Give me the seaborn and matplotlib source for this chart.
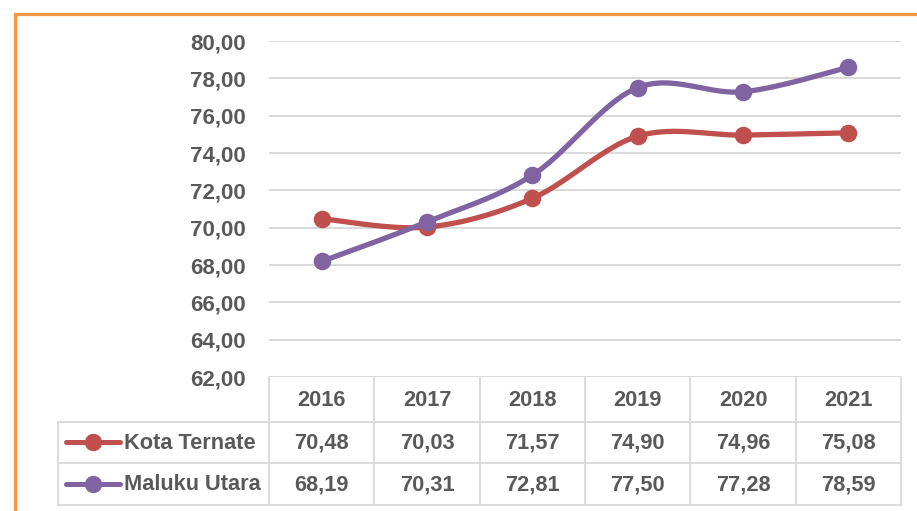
import numpy as np
import matplotlib
matplotlib.use("Agg")
import matplotlib.pyplot as plt
import matplotlib.transforms as mtransforms
import seaborn as sns
import pandas as pd

# ---- data ----
years = ["2016", "2017", "2018", "2019", "2020", "2021"]
kota_ternate = [70.48, 70.03, 71.57, 74.90, 74.96, 75.08]
maluku_utara = [68.19, 70.31, 72.81, 77.50, 77.28, 78.59]
series_names = ["Kota Ternate", "Maluku Utara"]
y_ticks = [62, 64, 66, 68, 70, 72, 74, 76, 78, 80]

colors = ["#C0504D", "#8064A2"]
txt = "#595959"
grid_c = "#D9D9D9"

sns.set_theme(style="white")
plt.rcParams['font.family'] = ['Liberation Sans', 'DejaVu Sans']
plt.rcParams['font.weight'] = 'bold'

W, H = 917, 511
fig = plt.figure(figsize=(W / 100, H / 100), dpi=100)
bg = fig.add_axes([0, 0, 1, 1])
bg.set_xlim(0, W)
bg.set_ylim(H, 0)
bg.axis('off')

ax = fig.add_axes([269 / W, 1 - 377 / H, (901 - 269) / W, (377 - 41) / H])
ax.set_xlim(-0.5, len(years) - 0.5)
ax.set_ylim(y_ticks[0], y_ticks[-1])
for s in ax.spines.values():
    s.set_visible(False)
ax.set_xticks([])
ax.set_yticks(y_ticks)
ax.set_yticklabels([f"{v:.2f}".replace('.', ',') for v in y_ticks])
ax.tick_params(axis='y', length=0, pad=17, labelsize=16, labelcolor=txt)
for lab in ax.get_yticklabels():
    lab.set_fontweight('bold')
for v in y_ticks:
    ax.axhline(v, color=grid_c, lw=1.4, zorder=0)
ax.set_facecolor('none')


def smooth(xs, ys, n=30):
    xs = np.asarray(xs, float)
    ys = np.asarray(ys, float)
    P = np.column_stack([xs, ys])
    out = [P[0]]
    t = np.linspace(0, 1, n)[1:, None]
    for i in range(len(P) - 1):
        p0 = P[i - 1] if i > 0 else P[i]
        p3 = P[i + 2] if i + 2 < len(P) else P[i + 1]
        c1 = P[i] + (P[i + 1] - p0) / 6
        c2 = P[i + 1] - (p3 - P[i]) / 6
        seg = ((1 - t) ** 3) * P[i] + 3 * ((1 - t) ** 2) * t * c1 + 3 * (1 - t) * t ** 2 * c2 + t ** 3 * P[i + 1]
        out.extend(seg)
    out = np.array(out)
    return out[:, 0], out[:, 1]


xidx = np.arange(len(years))
for k, (vals, col) in enumerate(zip([kota_ternate, maluku_utara], colors)):
    sx, sy = smooth(xidx, vals)
    ax.plot(sx, sy, color=col, lw=3.8, solid_capstyle='round', zorder=3 + 2 * k, clip_on=False)
    df = pd.DataFrame({"x": xidx, "y": vals})
    sns.scatterplot(data=df, x="x", y="y", ax=ax, color=col, s=160, edgecolor=col,
                    linewidth=0, zorder=4 + 2 * k, clip_on=False, legend=False)
ax.set_xlabel("")
ax.set_ylabel("")

# ---- data table ----
blend = mtransforms.blended_transform_factory(ax.transData, bg.transData)
lw_t = 1.3
rows_y = [377, 422, 463, 505]
x_bounds = [i - 0.5 for i in range(len(years) + 1)]
for xb in x_bounds:
    bg.plot([xb, xb], [377, 505], color=grid_c, lw=lw_t, transform=blend, clip_on=False)
bg.plot([58, 58], [422, 505], color=grid_c, lw=lw_t)
x_right = ax.transData.transform((len(years) - 0.5, 0))[0]
for yy in rows_y[1:]:
    bg.plot([58, x_right], [yy, yy], color=grid_c, lw=lw_t)

fs = 15.7
for i, yr in enumerate(years):
    bg.text(i, (rows_y[0] + rows_y[1]) / 2 + 1, yr, transform=blend, ha='center', va='center',
            fontsize=fs, color=txt, fontweight='bold')
for r, (name, vals, col) in enumerate(zip(series_names, [kota_ternate, maluku_utara], colors)):
    yc = (rows_y[r + 1] + rows_y[r + 2]) / 2 + 1
    for i, v in enumerate(vals):
        bg.text(i, yc, f"{v:.2f}".replace('.', ','), transform=blend, ha='center', va='center',
                fontsize=fs, color=txt, fontweight='bold')
    bg.plot([66, 120], [yc - 1, yc - 1], color=col, lw=3.6, solid_capstyle='round')
    bg.plot([93], [yc - 1], marker='o', ms=11.5, color=col, mec=col)
    bg.text(124, yc, name, ha='left', va='center', fontsize=fs, color=txt, fontweight='bold')

# ---- orange frame ----
bg.plot([14.5, 14.5, 940], [540, 14, 14], color="#F79646", lw=2.3, solid_joinstyle='miter')

fig.savefig("out.png", dpi=100)
